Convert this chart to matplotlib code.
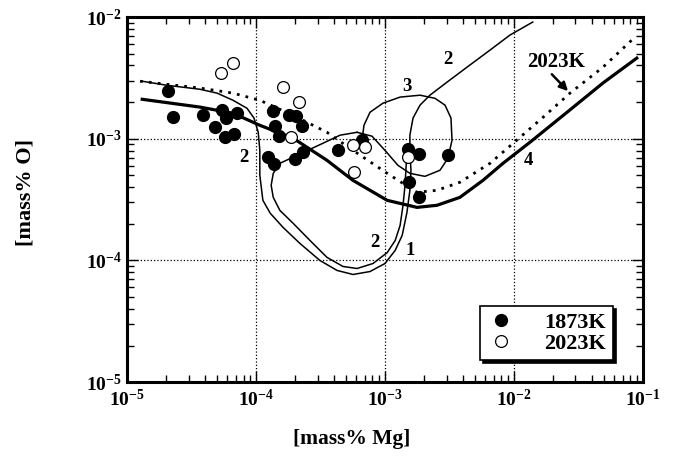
import numpy as np
import matplotlib
matplotlib.use("Agg")
import matplotlib.pyplot as plt
from matplotlib.ticker import LogLocator, FuncFormatter, NullFormatter

plt.rcParams['font.family'] = ['Liberation Serif', 'DejaVu Serif']
plt.rcParams['font.weight'] = 'bold'
plt.rcParams['mathtext.fontset'] = 'custom'
plt.rcParams['mathtext.rm'] = 'Liberation Serif:bold'
plt.rcParams['mathtext.bf'] = 'Liberation Serif:bold'
plt.rcParams['mathtext.it'] = 'Liberation Serif:bold:italic'

# measured points, 1873K
mg_1873 = [2.08e-5, 2.28e-5, 3.88e-5, 5.44e-5, 5.85e-5, 4.81e-5, 5.75e-5, 6.75e-5, 7.13e-5,
           1.24e-4, 1.38e-4, 1.36e-4, 1.40e-4, 1.51e-4, 1.80e-4, 2.04e-4, 2.27e-4, 2.00e-4,
           2.31e-4, 4.32e-4, 6.64e-4, 1.51e-3, 1.84e-3, 3.08e-3, 1.53e-3, 1.84e-3]
o_1873 = [2.46e-3, 1.50e-3, 1.56e-3, 1.72e-3, 1.48e-3, 1.24e-3, 1.03e-3, 1.09e-3, 1.62e-3,
          7.05e-4, 6.17e-4, 1.68e-3, 1.27e-3, 1.05e-3, 1.56e-3, 1.53e-3, 1.27e-3, 6.78e-4,
          7.74e-4, 8.03e-4, 9.72e-4, 8.20e-4, 7.45e-4, 7.31e-4, 4.39e-4, 3.30e-4]

# measured points, 2023K
mg_2023 = [5.36e-5, 6.64e-5, 1.62e-4, 2.15e-4, 1.87e-4, 5.65e-4, 7.00e-4, 5.75e-4, 1.51e-3]
o_2023 = [3.46e-3, 4.18e-3, 2.65e-3, 2.00e-3, 1.03e-3, 8.86e-4, 8.51e-4, 5.30e-4, 7.05e-4]

# curve 4 (this work, 1873K)
c4_mg = [1.31e-5, 3.68e-5, 6.64e-5, 1.07e-4, 1.94e-4, 3.55e-4, 5.65e-4, 1.04e-3, 1.77e-3,
         2.53e-3, 3.81e-3, 5.75e-3, 8.22e-3, 1.33e-2, 2.58e-2, 4.90e-2, 8.97e-2]
c4_o = [2.11e-3, 1.82e-3, 1.62e-3, 1.29e-3, 1.01e-3, 6.65e-4, 4.55e-4, 3.12e-4, 2.73e-4,
        2.84e-4, 3.30e-4, 4.55e-4, 6.28e-4, 9.35e-4, 1.65e-3, 2.87e-3, 4.60e-3]

# 2023K calculated (dotted)
c2023_mg = [1.26e-5, 3.68e-5, 6.64e-5, 1.07e-4, 1.94e-4, 3.55e-4, 5.65e-4, 1.04e-3, 1.77e-3,
            2.53e-3, 3.81e-3, 6.52e-3, 1.05e-2, 1.68e-2, 2.72e-2, 4.90e-2, 8.36e-2]
c2023_o = [2.97e-3, 2.61e-3, 2.37e-3, 2.07e-3, 1.56e-3, 1.13e-3, 8.03e-4, 5.20e-4, 3.63e-4,
           3.77e-4, 4.39e-4, 6.28e-4, 9.72e-4, 1.50e-3, 2.37e-3, 3.87e-3, 6.59e-3]

# curve 2
c2_mg = [1.31e-5, 2.04e-5, 3.68e-5, 4.99e-5, 6.64e-5, 8.51e-5, 9.64e-5, 1.04e-4, 1.07e-4,
         1.07e-4, 1.13e-4, 1.29e-4, 1.62e-4, 2.19e-4, 3.13e-4, 4.25e-4, 5.65e-4, 7.65e-4,
         1.00e-3, 1.20e-3, 1.36e-3, 1.48e-3, 1.56e-3, 1.59e-3, 1.56e-3, 1.56e-3, 1.65e-3,
         1.87e-3, 2.23e-3, 3.03e-3, 4.32e-3, 6.52e-3, 9.31e-3, 1.40e-2]
c2_o = [2.97e-3, 2.75e-3, 2.55e-3, 2.37e-3, 2.07e-3, 1.78e-3, 1.48e-3, 1.13e-3, 8.03e-4,
        5.01e-4, 3.12e-4, 2.44e-4, 1.87e-4, 1.38e-4, 1.00e-4, 8.28e-5, 7.67e-5, 8.11e-5,
        9.44e-5, 1.21e-4, 1.61e-4, 2.48e-4, 3.77e-4, 5.51e-4, 8.03e-4, 1.07e-3, 1.48e-3,
        1.89e-3, 2.28e-3, 2.92e-3, 3.87e-3, 5.35e-3, 7.11e-3, 9.10e-3]

# curve 1
c1_mg = [1.48e-3, 1.46e-3, 1.43e-3, 1.38e-3, 1.31e-3, 1.20e-3, 1.04e-3, 8.07e-4, 6.07e-4,
         4.72e-4, 3.55e-4, 2.62e-4, 1.94e-4, 1.53e-4, 1.36e-4, 1.31e-4, 1.36e-4, 1.53e-4,
         2.08e-4, 3.30e-4, 4.48e-4, 6.07e-4]
c1_o = [8.03e-4, 6.05e-4, 4.14e-4, 2.84e-4, 1.94e-4, 1.46e-4, 1.16e-4, 9.44e-5, 8.59e-5,
        8.93e-5, 1.06e-4, 1.46e-4, 2.02e-4, 2.58e-4, 3.30e-4, 4.14e-4, 5.20e-4, 6.28e-4,
        7.31e-4, 9.18e-4, 1.07e-3, 1.13e-3]

# curve 3
c3_mg = [6.07e-4, 7.93e-4, 1.00e-3, 1.26e-3, 1.56e-3, 2.04e-3, 2.67e-3, 3.08e-3, 3.31e-3,
         3.25e-3, 2.92e-3, 2.44e-3, 1.87e-3, 1.31e-3, 9.64e-4, 7.65e-4, 6.87e-4, 6.64e-4]
c3_o = [1.13e-3, 1.05e-3, 8.03e-4, 6.05e-4, 5.20e-4, 4.91e-4, 5.51e-4, 6.92e-4, 9.72e-4,
        1.48e-3, 1.89e-3, 2.15e-3, 2.28e-3, 2.20e-3, 1.96e-3, 1.65e-3, 1.29e-3, 9.72e-4]

fig = plt.figure(figsize=(6.76, 4.61), dpi=100)
ax = fig.add_axes([0.188, 0.171, 0.763, 0.792])
ax.set_xscale('log')
ax.set_yscale('log')
ax.set_xlim(1e-5, 1e-1)
ax.set_ylim(1e-5, 1e-2)

ax.plot(c2_mg, c2_o, color='k', lw=1.1, zorder=3)
ax.plot(c1_mg, c1_o, color='k', lw=1.1, zorder=3)
ax.plot(c3_mg, c3_o, color='k', lw=1.1, zorder=3)
ax.plot(c2023_mg, c2023_o, color='k', lw=2.0, ls=(0, (1, 2.2)), zorder=3)
ax.plot(c4_mg, c4_o, color='k', lw=2.3, zorder=3)

ax.plot(mg_1873, o_1873, 'o', ms=8.5, mfc='k', mec='k', ls='none', zorder=5, label='1873K')
ax.plot(mg_2023, o_2023, 'o', ms=8.5, mfc='white', mec='k', mew=0.9, ls='none', zorder=5,
        label='2023K')

ax.grid(True, which='major', color='k', ls=':', lw=0.9)
ax.set_axisbelow(True)

fmt = FuncFormatter(lambda v, p: r'$10^{%d}$' % round(np.log10(v)))
for a in (ax.xaxis, ax.yaxis):
    a.set_major_locator(LogLocator(base=10, numticks=10))
    a.set_minor_locator(LogLocator(base=10, subs=np.arange(2, 10), numticks=20))
    a.set_major_formatter(fmt)
    a.set_minor_formatter(NullFormatter())
ax.tick_params(which='both', direction='in', top=True, right=True, labelsize=14)
ax.tick_params(which='major', length=8, width=1)
ax.tick_params(which='minor', length=5, width=1)
ax.tick_params(axis='x', pad=5)
ax.tick_params(axis='y', pad=4)
for s in ax.spines.values():
    s.set_linewidth(2.2)

ax.set_xlabel('[mass% Mg]', fontsize=15.5, fontweight='bold')
ax.set_ylabel('[mass% O]', fontsize=16, fontweight='bold')
ax.xaxis.set_label_coords(0.436, -0.128)
ax.yaxis.set_label_coords(-0.178, 0.52)

lab = dict(fontsize=13.5, fontweight='bold', ha='center', va='center')
ax.text(8.07e-5, 7.05e-4, '2', **lab)
ax.text(1.48e-3, 2.70e-3, '3', **lab)
ax.text(3.08e-3, 4.51e-3, '2', **lab)
ax.text(1.29e-2, 6.65e-4, '4', **lab)
ax.text(8.36e-4, 1.41e-4, '2', **lab)
ax.text(1.56e-3, 1.21e-4, '1', **lab)
ax.text(2.12e-2, 4.27e-3, '2023K', fontsize=15, fontweight='bold', ha='center', va='center')
ax.annotate('', xy=(2.72e-2, 2.37e-3), xytext=(1.90e-2, 3.52e-3),
            arrowprops=dict(arrowstyle='-|>,head_length=0.5,head_width=0.25', color='k', lw=1.8))

leg = ax.legend(loc='lower right', bbox_to_anchor=(0.942, 0.06), borderaxespad=0,
                fancybox=False, edgecolor='k', framealpha=1, fontsize=16,
                handletextpad=1.3, borderpad=0.3, labelspacing=0.0, handlelength=1.3,
                shadow={'color': 'k', 'alpha': 1})
leg.get_frame().set_linewidth(1.2)
leg.set_zorder(6)

fig.savefig('out.png', dpi=100)
